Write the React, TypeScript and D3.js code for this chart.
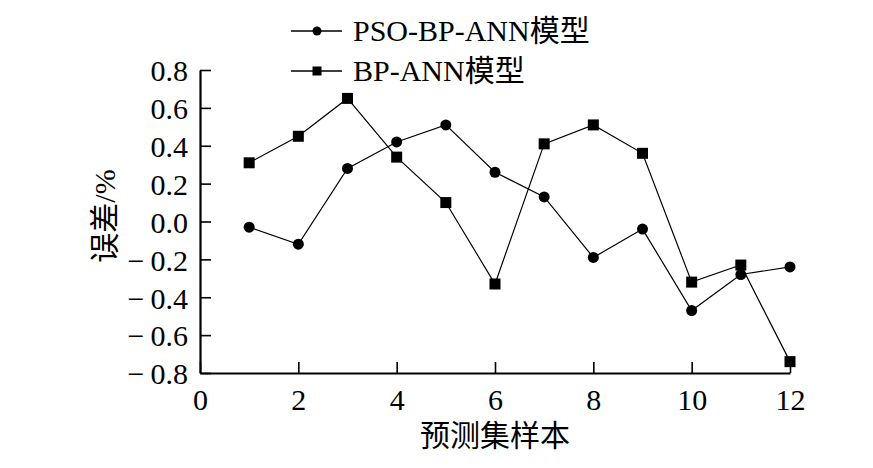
import { useEffect, useRef } from 'react';
import * as d3 from 'd3';

// sample index 1..12
const samples = [1, 2, 3, 4, 5, 6, 7, 8, 9, 10, 11, 12];
// PSO-BP-ANN model error (%)
const psoErrors = [-0.03, -0.12, 0.28, 0.42, 0.51, 0.26, 0.13, -0.19, -0.04, -0.47, -0.28, -0.24];
// BP-ANN model error (%)
const bpErrors = [0.31, 0.45, 0.65, 0.34, 0.1, -0.33, 0.41, 0.51, 0.36, -0.32, -0.23, -0.74];

const xTicks = [0, 2, 4, 6, 8, 10, 12];
const yTicks = [-0.8, -0.6, -0.4, -0.2, 0, 0.2, 0.4, 0.6, 0.8];

const seriesNames = ['PSO-BP-ANN模型', 'BP-ANN模型'];

const FONT = '"Liberation Serif", "Times New Roman", "Noto Sans CJK SC", serif';

export default function App() {
  const svgRef = useRef<SVGSVGElement>(null);
  const width = 873;
  const height = 468;

  useEffect(() => {
    if (!svgRef.current) return;
    const svg = d3.select(svgRef.current);
    svg.selectAll('*').remove();

    const x = d3.scaleLinear().domain([0, 12]).range([200, 790]);
    const y = d3.scaleLinear().domain([-0.8, 0.8]).range([373, 70]);

    const g = svg.append('g');

    // axes
    const xAxis = g
      .append('g')
      .attr('transform', `translate(0,${y(-0.8)})`)
      .call(
        d3
          .axisBottom(x)
          .tickValues(xTicks)
          .tickSizeInner(-11)
          .tickSizeOuter(0)
          .tickPadding(14)
          .tickFormat((d) => `${d}`),
      );
    xAxis.select('.domain').attr('stroke', '#000').attr('stroke-width', 2.2);
    xAxis.selectAll('.tick line').attr('stroke', '#000').attr('stroke-width', 1.6);
    xAxis
      .selectAll('.tick text')
      .attr('fill', '#000')
      .attr('font-family', FONT)
      .attr('font-size', '30px')
      .attr('dy', '0.75em');

    const yAxis = g
      .append('g')
      .attr('transform', `translate(${x(0)},0)`)
      .call(
        d3
          .axisLeft(y)
          .tickValues(yTicks)
          .tickSizeInner(-11)
          .tickSizeOuter(0)
          .tickPadding(12)
          .tickFormat((d) => {
            const v = d as number;
            const s = Math.abs(v).toFixed(1);
            return v < 0 ? `\u2212\u2009${s}` : s;
          }),
      );
    yAxis.select('.domain').attr('stroke', '#000').attr('stroke-width', 2.2);
    yAxis.selectAll('.tick line').attr('stroke', '#000').attr('stroke-width', 1.6);
    yAxis
      .selectAll('.tick text')
      .attr('fill', '#000')
      .attr('font-family', FONT)
      .attr('font-size', '30px')
      .attr('dy', '0.36em');

    // axis labels
    g.append('text')
      .attr('x', (x(0) + x(12)) / 2)
      .attr('y', 446)
      .attr('text-anchor', 'middle')
      .attr('font-family', FONT)
      .attr('font-size', '30px')
      .attr('fill', '#000')
      .text('预测集样本');

    g.append('text')
      .attr('transform', `translate(115,216) rotate(-90)`)
      .attr('text-anchor', 'middle')
      .attr('font-family', FONT)
      .attr('font-size', '30px')
      .attr('fill', '#000')
      .text('误差/%');

    const line = d3
      .line<number>()
      .x((_, i) => x(samples[i]))
      .y((d) => y(d));

    // PSO-BP-ANN
    g.append('path')
      .datum(psoErrors)
      .attr('d', line)
      .attr('fill', 'none')
      .attr('stroke', '#000')
      .attr('stroke-width', 1.2);
    g.selectAll('.pso')
      .data(psoErrors)
      .enter()
      .append('circle')
      .attr('cx', (_, i) => x(samples[i]))
      .attr('cy', (d) => y(d))
      .attr('r', 5.5)
      .attr('fill', '#000');

    // BP-ANN
    g.append('path')
      .datum(bpErrors)
      .attr('d', line)
      .attr('fill', 'none')
      .attr('stroke', '#000')
      .attr('stroke-width', 1.2);
    const sq = 11;
    g.selectAll('.bp')
      .data(bpErrors)
      .enter()
      .append('rect')
      .attr('x', (_, i) => x(samples[i]) - sq / 2)
      .attr('y', (d) => y(d) - sq / 2)
      .attr('width', sq)
      .attr('height', sq)
      .attr('fill', '#000');

    // legend
    const legend = g.append('g');
    seriesNames.forEach((name, i) => {
      const ly = 31 + i * 40;
      legend
        .append('line')
        .attr('x1', 291)
        .attr('x2', 342)
        .attr('y1', ly)
        .attr('y2', ly)
        .attr('stroke', '#000')
        .attr('stroke-width', 1.3);
      if (i === 0) {
        legend.append('circle').attr('cx', 317).attr('cy', ly).attr('r', 4.5).attr('fill', '#000');
      } else {
        legend
          .append('rect')
          .attr('x', 317 - 4.5)
          .attr('y', ly - 4.5)
          .attr('width', 9)
          .attr('height', 9)
          .attr('fill', '#000');
      }
      legend
        .append('text')
        .attr('x', 353)
        .attr('y', ly + 10)
        .attr('font-family', FONT)
        .attr('font-size', '30px')
        .attr('fill', '#000')
        .text(name);
    });
  }, []);

  return (
    <svg
      ref={svgRef}
      width={width}
      height={height}
      style={{ position: 'absolute', left: 0, top: 0, background: '#fff' }}
    />
  );
}
